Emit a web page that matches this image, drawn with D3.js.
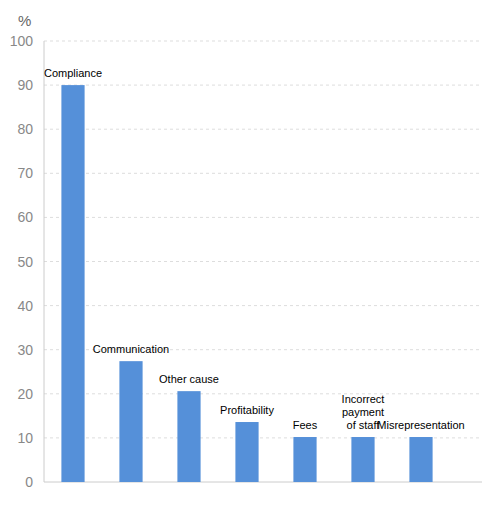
<!DOCTYPE html>
<html><head><meta charset="utf-8">
<script src="https://cdn.jsdelivr.net/npm/d3@7"></script>
<style>body{margin:0;background:#fff}text{font-family:Arial,"Liberation Sans",sans-serif}</style>
</head><body><svg id="c" width="488" height="506"></svg>
<script>
const categories=["Compliance","Communication","Other cause","Profitability","Fees","Incorrect payment of staff","Misrepresentation"];
const labelLines=[["Compliance"],["Communication"],["Other cause"],["Profitability"],["Fees"],["Incorrect","payment","of staff"],["Misrepresentation"]];
const values=[90,27.4,20.6,13.6,10.2,10.2,10.2];
const yTicks=[0,10,20,30,40,50,60,70,80,90,100];
const svg=d3.select("#c");
const x=d3.scaleBand().domain(categories).range([44,450]).paddingInner(0.6).paddingOuter(0.3);
const y=d3.scaleLinear().domain([0,100]).range([482,41]);
svg.selectAll(".g").data(yTicks.filter(d=>d>0)).join("line")
 .attr("x1",44).attr("x2",482).attr("y1",d=>y(d)).attr("y2",d=>y(d))
 .attr("stroke","#ddd").attr("stroke-dasharray","3,3");
svg.append("line").attr("x1",44).attr("x2",482).attr("y1",y(0)).attr("y2",y(0)).attr("stroke","#ccc");
svg.append("line").attr("x1",44).attr("x2",44).attr("y1",y(0)).attr("y2",y(100)).attr("stroke","#ccc");
svg.selectAll(".yt").data(yTicks).join("text").attr("x",33).attr("y",d=>y(d)+5)
 .attr("text-anchor","end").attr("font-size",14).attr("fill","#888").text(d=>d);
svg.append("text").attr("x",18).attr("y",26).attr("font-size",15).attr("fill","#666").text("%");
svg.selectAll(".b").data(values).join("rect")
 .attr("x",(d,i)=>x(categories[i])).attr("width",x.bandwidth())
 .attr("y",d=>y(d)).attr("height",d=>y(0)-y(d)).attr("fill","#5590d9");
labelLines.forEach((ls,i)=>{
 const cx=x(categories[i])+x.bandwidth()/2;
 const top=y(values[i])-8-(ls.length-1)*13;
 const t=svg.append("text").attr("text-anchor","middle").attr("font-size",11).attr("fill","#000");
 ls.forEach((l,j)=>t.append("tspan").attr("x",cx).attr("y",top+j*13).text(l));
});
</script></body></html>
